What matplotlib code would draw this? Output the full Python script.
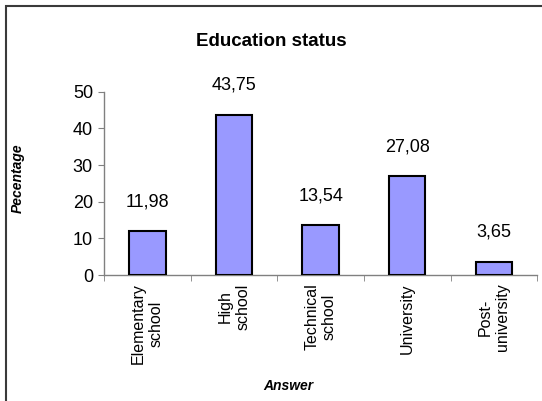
import numpy as np
import matplotlib.pyplot as plt
from matplotlib.patches import Rectangle

plt.rcParams['font.family'] = ['Liberation Sans', 'DejaVu Sans']

# Education level answers and their shares (%)
categories = ['Elementary\nschool', 'High\nschool', 'Technical\nschool',
              'University', 'Post-\nuniversity']
percentages = [11.98, 43.75, 13.54, 27.08, 3.65]
value_labels = ['11,98', '43,75', '13,54', '27,08', '3,65']
y_ticks = [0, 10, 20, 30, 40, 50]

fig = plt.figure(figsize=(5.42, 4.01), dpi=100)
ax = fig.add_axes([0.192, 0.314, 0.799, 0.457])

x = np.arange(len(categories))
bars = ax.bar(x, percentages, width=0.42, color='#9999ff',
              edgecolor='black', linewidth=1.5, zorder=3)

for xi, val, lab in zip(x, percentages, value_labels):
    ax.annotate(lab, (xi, val), xytext=(0, 15), textcoords='offset points',
                ha='center', va='bottom', fontsize=13)

ax.set_xlim(-0.5, len(categories) - 0.5)
ax.set_ylim(0, 50)
ax.set_yticks(y_ticks)
ax.tick_params(axis='y', labelsize=13, length=4, color='#808080', pad=4)

# labels sit under the bars, tick marks go between categories
ax.set_xticks(x)
ax.set_xticklabels(categories, rotation=90, fontsize=11.5, linespacing=1.2,
                   ha='center', va='top', multialignment='center')
ax.tick_params(axis='x', which='major', length=0, pad=6)
ax.set_xticks(np.arange(len(categories) + 1) - 0.5, minor=True)
ax.tick_params(axis='x', which='minor', length=4, color='#808080')

for side in ['top', 'right']:
    ax.spines[side].set_visible(False)
for side in ['left', 'bottom']:
    ax.spines[side].set_color('#808080')
    ax.spines[side].set_linewidth(1)

fig.text(271 / 542, 1 - 42 / 401, 'Education status', ha='center',
         va='center', fontsize=13.5, fontweight='bold')
fig.text(18 / 542, 1 - 178 / 401, 'Pecentage', rotation=90, ha='center',
         va='center', fontsize=10, fontweight='bold', style='italic')
fig.text(288 / 542, 1 - 386 / 401, 'Answer', ha='center', va='center',
         fontsize=10, fontweight='bold', style='italic')

# outer chart frame
fig.patches.append(Rectangle((6 / 542, -0.05), 1.0, 1 - 6 / 401 + 0.05,
                             transform=fig.transFigure, fill=False,
                             edgecolor='#3a3a3a', linewidth=1.5))

fig.savefig('out.png', dpi=100)
